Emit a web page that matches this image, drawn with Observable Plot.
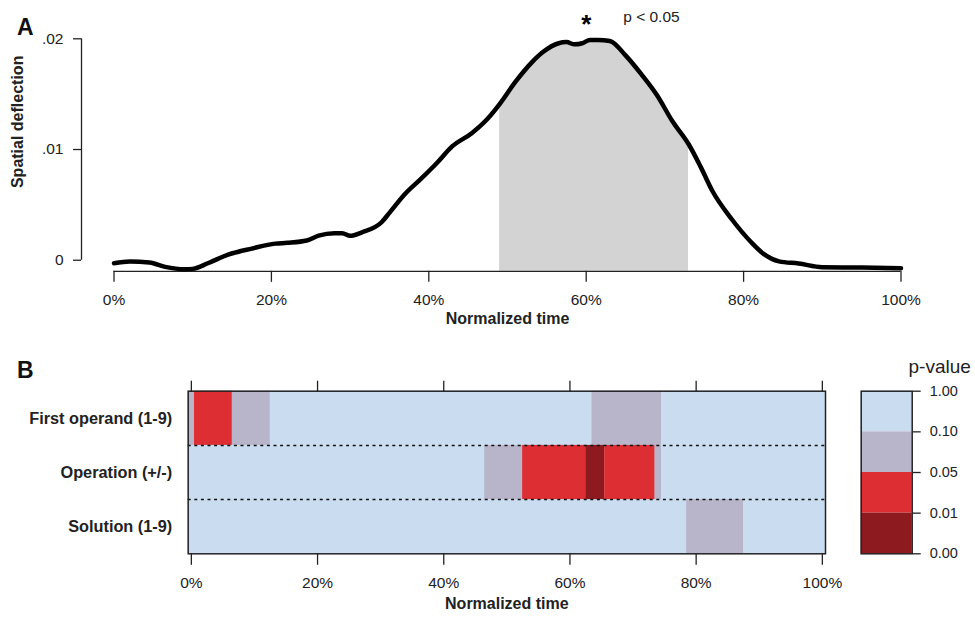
<!DOCTYPE html>
<html><head><meta charset="utf-8">
<script src="https://cdn.jsdelivr.net/npm/d3@7"></script>
<script src="https://cdn.jsdelivr.net/npm/@observablehq/plot@0.6"></script>
<style>
body{margin:0;background:#fff;}
#wrap{position:relative;width:975px;height:617px;overflow:hidden;font-family:"Liberation Sans",Arial,Helvetica,sans-serif;color:#111;}
#wrap svg{position:absolute;overflow:visible;}
.panel{position:absolute;font-weight:bold;font-size:23px;line-height:23px;}
</style></head><body><div id="wrap"></div>
<script>
// ---------- data: panel A ----------
const time = [0,2,4.5,6.5,9,10,12,14.5,17.5,20.5,22,24.5,26,28,29,30,31.5,34,35,37,39,41,43,45.5,47.5,49,51,53,54.5,56.5,57.5,58.5,59.5,60.5,61.5,63,65,67,69,71,73,74.5,76,78.5,81,82.5,84.5,87,90,95,100];
const deflection = [-0.00027,-0.00012,-0.0002,-0.0006,-0.00082,-0.00078,-0.00025,0.0005,0.00105,0.0015,0.00157,0.00178,0.00222,0.00244,0.00244,0.0022,0.00252,0.00343,0.00428,0.006,0.00735,0.00876,0.0103,0.0115,0.0128,0.0141,0.0161,0.0178,0.0188,0.0196,0.0197,0.0195,0.0196,0.0199,0.0199,0.0198,0.0185,0.0168,0.0149,0.0125,0.0105,0.0085,0.0063,0.0037,0.0016,0.0006,-0.0001,-0.0003,-0.00063,-0.00066,-0.00072];
const sigStart = 49, sigEnd = 73;
const starX = 60;
const xTicks = [0,20,40,60,80,100];
const yTicks = [0, 0.01, 0.02];
const yTickLabels = ["0", ".01", ".02"];

// ---------- data: panel B ----------
const rows = ["First operand (1-9)", "Operation (+/-)", "Solution (1-9)"];
const segRow   = [0, 0, 0, 0,  1,  1,  1,  1,  1,  2];
const segStart = [0, 1, 7, 64, 47, 53, 63, 66, 74, 79];
const segEnd   = [0, 6, 12, 74, 52, 62, 65, 73, 74, 87];
const segBin   = [1, 2, 1, 1,  1,  2,  3,  2,  1,  1];
const binLabels = ["0.10–1.00", "0.05–0.10", "0.01–0.05", "0.00–0.01"];
const binColors = ["#c9dcf0", "#b8b4c9", "#dc2e33", "#8c1a1e"];
const legendTicks = ["1.00", "0.10", "0.05", "0.01", "0.00"];

// ---------- build ----------
const font = "Liberation Sans, Arial, Helvetica, sans-serif";
const ink = "#222";
const wrap = document.getElementById("wrap");

const curve = time.map((t, i) => ({t, v: deflection[i]}));
const sig = curve.filter(d => d.t >= sigStart && d.t <= sigEnd);
const yMin = -0.001;

const plotA = Plot.plot({
  width: 975, height: 330,
  marginTop: 38.3, marginBottom: 59.2, marginLeft: 81, marginRight: 74.5,
  style: {fontFamily: font, fontSize: "15.5px", color: ink, background: "transparent", overflow: "visible"},
  x: {domain: [0, 100], range: [113.5, 900.5], label: null},
  y: {domain: [yMin, 0.02], label: null},
  marks: [
    Plot.areaY(sig, {x: "t", y1: yMin, y2: "v", fill: "#d3d3d3", curve: "monotone-x"}),
    Plot.ruleY([yMin], {x1: xTicks[0], x2: xTicks[xTicks.length - 1], stroke: ink, strokeWidth: 1.3}),
    Plot.ruleX([xTicks[0]], {y1: yTicks[0], y2: yTicks[yTicks.length - 1], dx: -32.5, stroke: ink, strokeWidth: 1.3}),
    Plot.axisX({ticks: xTicks, tickFormat: d => d + "%", tickSize: 11, tickPadding: 12, stroke: ink, strokeWidth: 1.3, label: null}),
    Plot.axisY({ticks: yTicks, tickFormat: d => yTickLabels[yTicks.indexOf(d)], tickSize: 8, tickPadding: 10, stroke: ink, strokeWidth: 1.3, label: null}),
    Plot.line(curve, {x: "t", y: "v", stroke: "#000", strokeWidth: 4.5, curve: "monotone-x"}),
    Plot.text(["Normalized time"], {x: 50, frameAnchor: "bottom", dy: 53, fontWeight: "bold", fontSize: 16}),
    Plot.text(["Spatial deflection"], {y: 0.0125, frameAnchor: "left", dx: -64, rotate: -90, textAnchor: "middle", fontWeight: "bold", fontSize: 16}),
    Plot.text(["*"], {x: starX, y: yTicks[2], dy: -14, fontSize: 26, fontWeight: "bold", fill: "#000"}),
    Plot.text(["p < 0.05"], {x: starX, y: yTicks[2], dx: 37, dy: -22, textAnchor: "start"})
  ]
});
plotA.style.left = "0px"; plotA.style.top = "0px";
wrap.appendChild(plotA);

const bg = rows.map((name, i) => ({row: i, bin: binLabels[0]}));
const segs = segRow.map((r, i) => ({row: r, x1: segStart[i] - 0.5, x2: segEnd[i] + 0.5, bin: binLabels[segBin[i]]}));

const plotB = Plot.plot({
  width: 975, height: 287,
  marginTop: 60.7, marginBottom: 63.7, marginLeft: 187.7, marginRight: 150,
  style: {fontFamily: font, fontSize: "15.5px", color: ink, background: "transparent", overflow: "visible"},
  x: {domain: [xTicks[0] - 0.5, xTicks[xTicks.length - 1] + 0.5], label: null},
  y: {domain: [rows.length, 0], axis: null, label: null},
  color: {domain: binLabels, range: binColors},
  marks: [
    Plot.rect(bg, {y1: "row", y2: d => d.row + 1, fill: "bin"}),
    Plot.rect(segs, {x1: "x1", x2: "x2", y1: "row", y2: d => d.row + 1, fill: "bin"}),
    Plot.ruleY(d3.range(1, rows.length), {stroke: "#111", strokeWidth: 1.5, strokeDasharray: "3,3.6"}),
    Plot.frame({stroke: ink, strokeWidth: 1.5}),
    Plot.axisX({anchor: "top", ticks: xTicks, tickSize: 11, tickFormat: () => "", stroke: ink, strokeWidth: 1.3, label: null}),
    Plot.axisX({anchor: "bottom", ticks: xTicks, tickSize: 11.5, tickPadding: 12, tickFormat: d => d + "%", stroke: ink, strokeWidth: 1.3, label: null}),
    Plot.text(rows, {y: (d, i) => i + 0.5, frameAnchor: "left", dx: -16, textAnchor: "end", fontWeight: "bold", fontSize: 16.3}),
    Plot.text(["Normalized time"], {x: 50, frameAnchor: "bottom", dy: 55, fontWeight: "bold", fontSize: 16})
  ]
});
plotB.style.left = "0px"; plotB.style.top = "330px";
wrap.appendChild(plotB);

const plotL = Plot.plot({
  width: 135, height: 287,
  marginTop: 60.7, marginBottom: 63.7, marginLeft: 20.7, marginRight: 63.3,
  style: {fontFamily: font, fontSize: "14.5px", color: ink, background: "transparent", overflow: "visible"},
  y: {domain: [binLabels.length, 0], label: null},
  color: {domain: binLabels, range: binColors},
  marks: [
    Plot.rect(binLabels, {y1: (d, i) => i, y2: (d, i) => i + 1, fill: d => d}),
    Plot.frame({stroke: ink, strokeWidth: 1.5}),
    Plot.axisY({anchor: "right", ticks: d3.range(legendTicks.length), tickFormat: d => legendTicks[d], tickSize: 8, tickPadding: 9.5, stroke: ink, strokeWidth: 1.3, label: null}),
    Plot.text(["p-value"], {frameAnchor: "top-right", dx: -3.7, dy: -32, textAnchor: "start", fontSize: 19})
  ]
});
plotL.style.left = "840px"; plotL.style.top = "330px";
wrap.appendChild(plotL);

for (const [txt, top] of [["A", 15.5], ["B", 358.8]]) {
  const d = document.createElement("div");
  d.className = "panel"; d.textContent = txt;
  d.style.left = "17px"; d.style.top = top + "px";
  wrap.appendChild(d);
}
</script></body></html>
